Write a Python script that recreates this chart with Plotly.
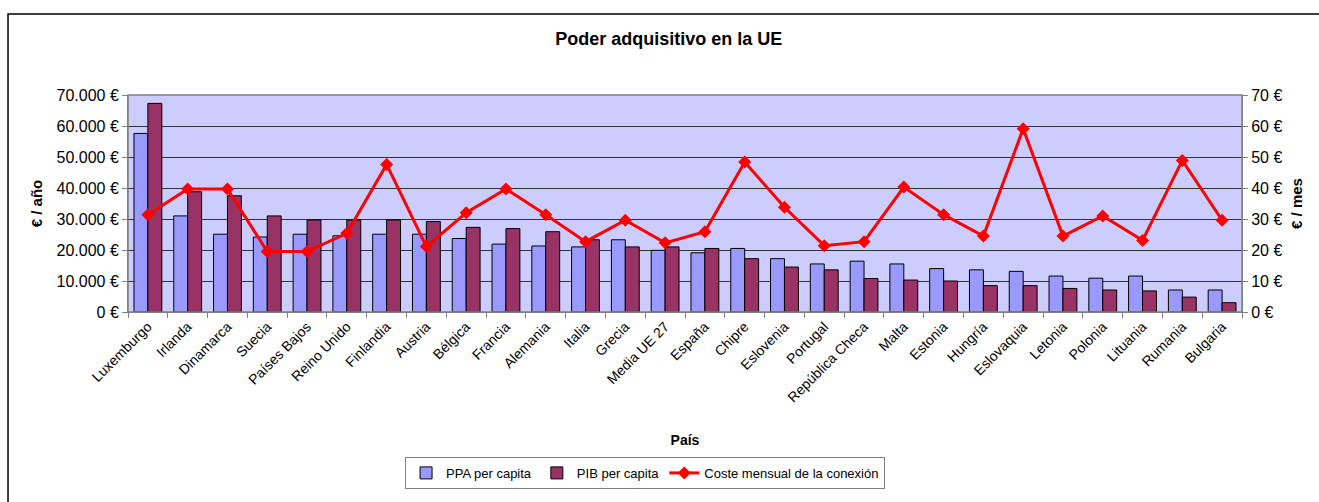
import plotly.graph_objects as go

paises = ['Luxemburgo', 'Irlanda', 'Dinamarca', 'Suecia', 'Países Bajos', 'Reino Unido',
          'Finlandia', 'Austria', 'Bélgica', 'Francia', 'Alemania', 'Italia', 'Grecia',
          'Media UE 27', 'España', 'Chipre', 'Eslovenia', 'Portugal', 'República Checa',
          'Malta', 'Estonia', 'Hungría', 'Eslovaquia', 'Letonia', 'Polonia', 'Lituania',
          'Rumania', 'Bulgaria']

ppa = [57600, 31000, 25100, 24200, 25100, 24600, 25100, 25100, 23700, 21900, 21300, 21000,
       23300, 19900, 19100, 20500, 17200, 15500, 16400, 15500, 14000, 13600, 13100, 11600,
       10900, 11600, 7100, 7100]
pib = [67300, 38800, 37500, 31000, 29700, 29700, 29700, 29200, 27300, 26900, 25900, 23300,
       21000, 21000, 20500, 17200, 14500, 13600, 10800, 10300, 10000, 8500, 8500, 7600,
       7100, 6800, 4800, 3000]
coste = [31.4, 39.7, 39.7, 19.5, 19.5, 25.4, 47.6, 21.1, 32.0, 39.7, 31.4, 22.7, 29.6, 22.3,
         25.9, 48.4, 33.8, 21.4, 22.7, 40.3, 31.4, 24.5, 59.1, 24.5, 31.0, 23.1, 48.9, 29.6]

fig = go.Figure()
fig.add_trace(go.Bar(x=paises, y=ppa, name='PPA per capita',
                     marker=dict(color='#9999FF', line=dict(color='black', width=1))))
fig.add_trace(go.Bar(x=paises, y=pib, name='PIB per capita',
                     marker=dict(color='#993366', line=dict(color='black', width=1))))
fig.add_trace(go.Scatter(x=paises, y=coste, name='Coste mensual de la conexión', yaxis='y2',
                         mode='lines+markers', line=dict(color='#FF0000', width=3),
                         marker=dict(symbol='diamond', size=10, color='#FF0000')))

fig.update_layout(
    width=1319, height=502,
    margin=dict(l=128, r=77, t=95, b=190),
    paper_bgcolor='white', plot_bgcolor='#CCCCFF',
    font=dict(family='Liberation Sans, Arial', size=13, color='black'),
    separators=',.',
    barmode='group', bargap=0.3, bargroupgap=0,
    title=dict(text='<b>Poder adquisitivo en la UE</b>', x=0.507, xanchor='center',
               y=0.922, yanchor='middle', font=dict(size=18)),
    xaxis=dict(title=dict(text='<b>País</b>', font=dict(size=14), standoff=30),
               range=[-0.5, 27.5], automargin=False,
               tickangle=-45, ticks='outside', tickson='boundaries', ticklen=5,
               tickcolor='#808080', showline=True, linecolor='#808080',
               tickfont=dict(size=14)),
    yaxis=dict(title=dict(text='<b>€ / año</b>', font=dict(size=15), standoff=10),
               range=[0, 70000], dtick=10000, tickformat=',d', ticksuffix=' €',
               automargin=False, tickfont=dict(size=16),
               showgrid=True, gridcolor='#333333', gridwidth=1,
               ticks='outside', ticklen=5, tickcolor='#808080',
               showline=True, linecolor='#808080', zeroline=False),
    yaxis2=dict(title=dict(text='<b>€ / mes</b>', font=dict(size=15), standoff=10),
                overlaying='y', side='right', range=[0, 70], dtick=10,
                ticksuffix=' €', automargin=False, tickfont=dict(size=16),
                showgrid=False, ticks='outside', ticklen=5,
                tickcolor='#808080', showline=True, linecolor='#808080', zeroline=False),
    legend=dict(orientation='h', x=0.2487, y=-0.668, xanchor='left', yanchor='top',
                bordercolor='#808080', borderwidth=1, font=dict(size=13),
                traceorder='normal'),
    shapes=[
        dict(type='rect', xref='paper', yref='paper', x0=0, x1=1, y0=0, y1=1,
             line=dict(color='#808080', width=1.5), fillcolor='rgba(0,0,0,0)', layer='above'),
        dict(type='rect', xref='paper', yref='paper', x0=-0.1077, x1=1.075, y0=-1.2, y1=1.373,
             line=dict(color='black', width=1.5), fillcolor='rgba(0,0,0,0)'),
    ],
)

fig.write_html('out.html', config={'displayModeBar': False},
               post_script="document.body.style.margin='0';")
